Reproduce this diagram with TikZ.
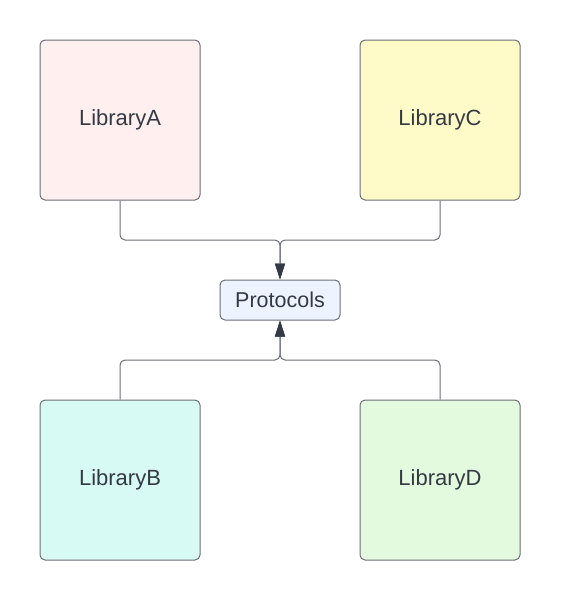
\documentclass[tikz,border=0pt]{standalone}
\usepackage{fontspec}
\setmainfont{Liberation Sans}
\usetikzlibrary{arrows.meta}

\definecolor{edgegray}{HTML}{6B6E75}
\definecolor{textdark}{HTML}{333A44}
\definecolor{pinkfill}{HTML}{FFEFEF}
\definecolor{yellowfill}{HTML}{FFFBC8}
\definecolor{cyanfill}{HTML}{D8FAF4}
\definecolor{greenfill}{HTML}{E3FADF}
\definecolor{bluefill}{HTML}{EDF4FF}

\tikzset{
  libbox/.style={draw=edgegray, line width=1pt, rounded corners=5pt,
    minimum width=160pt, minimum height=160pt, text=textdark,
    font=\fontsize{22}{26}\selectfont},
  protobox/.style={draw=edgegray, line width=1pt, rounded corners=5pt,
    fill=bluefill, minimum width=120pt, minimum height=40pt, text=textdark,
    font=\fontsize{21.5}{25}\selectfont},
  link/.style={draw=edgegray, line width=1pt, rounded corners=5pt},
  tip/.style={-{Triangle[length=16pt,width=10pt,color=textdark]}}
}

\begin{document}
\begin{tikzpicture}[x=1pt,y=-1pt]
   \useasboundingbox (0,0) rectangle (560,600);
   % libraries
   \node[libbox, fill=pinkfill]   (libA) at (120,120) {LibraryA};
   \node[libbox, fill=yellowfill] (libC) at (440,120) {LibraryC};
   \node[libbox, fill=cyanfill]   (libB) at (120,480) {LibraryB};
   \node[libbox, fill=greenfill]  (libD) at (440,480) {LibraryD};
   \node[protobox] (proto) at (280,300) {Protocols};
   % connectors
   \draw[link, tip] (libA.south) -- (120,240) -- (280,240) -- (proto.north);
   \draw[link, tip] (libC.south) -- (440,240) -- (280,240) -- (proto.north);
   \draw[link, tip] (libB.north) -- (120,360) -- (280,360) -- (proto.south);
   \draw[link, tip] (libD.north) -- (440,360) -- (280,360) -- (proto.south);
\end{tikzpicture}
\end{document}
